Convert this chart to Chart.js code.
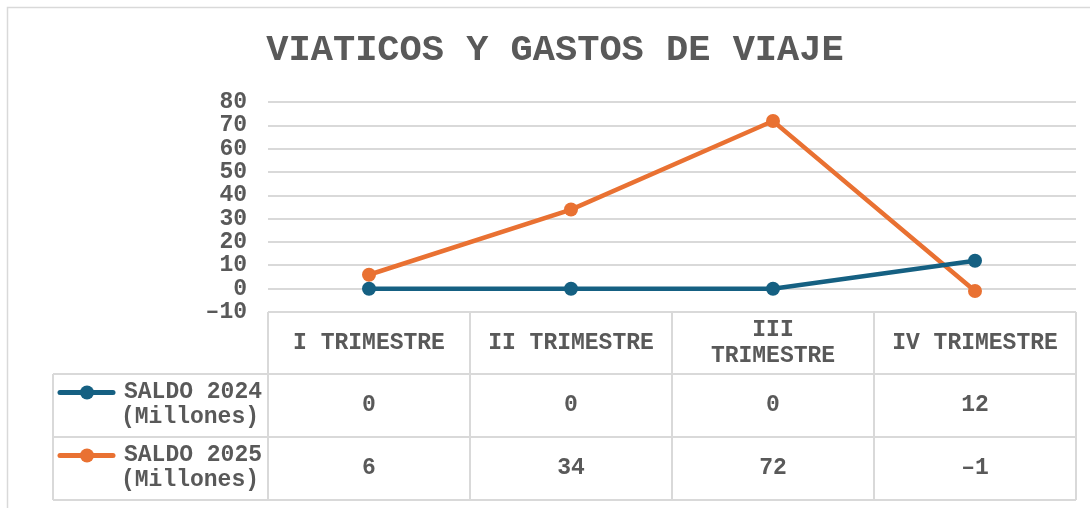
<!DOCTYPE html>
<html>
<head>
<meta charset="utf-8">
<script src="https://cdn.jsdelivr.net/npm/chart.js@4"></script>
<style>
  html, body { margin: 0; padding: 0; background: #fff; }
  #wrap { width: 1090px; height: 508px; position: relative; }
</style>
</head>
<body>
<div id="wrap"><canvas id="chart" width="1090" height="508"></canvas></div>
<script>
// datos del gráfico
const categories = ['I TRIMESTRE', 'II TRIMESTRE', 'III TRIMESTRE', 'IV TRIMESTRE'];
const categoryLines = [['I TRIMESTRE'], ['II TRIMESTRE'], ['III', 'TRIMESTRE'], ['IV TRIMESTRE']];
const seriesNames = [['SALDO 2024', '(Millones)'], ['SALDO 2025', '(Millones)']];
const saldo2024 = [0, 0, 0, 12];
const saldo2025 = [6, 34, 72, -1];
const yTicks = [-10, 0, 10, 20, 30, 40, 50, 60, 70, 80];

const TEXT = '#595959';
const GRID = '#D9D9D9';
const BLUE = '#156082';
const ORANGE = '#E97132';
const FONT = '"Liberation Mono", "Courier New", monospace';

/**
 * Tabla de datos bajo el gráfico (estilo Excel)
 */
const dataTable = {
  id: 'dataTable',
  beforeDraw(chart) {
    const ctx = chart.ctx;
    ctx.save();
    ctx.strokeStyle = GRID;
    ctx.lineWidth = 1.5;
    ctx.strokeRect(7.5, 7.5, 1200, 700);
    ctx.restore();
  },
  afterDraw(chart) {
    const ctx = chart.ctx;
    const x = chart.scales.x;
    const area = chart.chartArea;
    const top = area.bottom;
    const rows = [top, 374, 437, 500];
    const legendLeft = 53;
    const n = categories.length;
    const colW = (area.right - area.left) / n;

    ctx.save();
    ctx.strokeStyle = GRID;
    ctx.lineWidth = 2;
    ctx.beginPath();
    // líneas horizontales
    ctx.moveTo(area.left, rows[0]); ctx.lineTo(area.right, rows[0]);
    for (let r = 1; r < rows.length; r++) {
      ctx.moveTo(legendLeft, rows[r]); ctx.lineTo(area.right, rows[r]);
    }
    // líneas verticales
    for (let i = 0; i <= n; i++) {
      const cx = area.left + i * colW;
      ctx.moveTo(cx, rows[0]); ctx.lineTo(cx, rows[3]);
    }
    ctx.moveTo(legendLeft, rows[1]); ctx.lineTo(legendLeft, rows[3]);
    ctx.stroke();

    ctx.fillStyle = TEXT;
    ctx.font = 'bold 23px ' + FONT;
    ctx.textAlign = 'center';
    ctx.textBaseline = 'middle';
    // encabezados
    categoryLines.forEach((lines, i) => {
      const cx = x.getPixelForValue(i);
      const cy = (rows[0] + rows[1]) / 2;
      lines.forEach((t, k) => {
        ctx.fillText(t, cx, cy + (k - (lines.length - 1) / 2) * 26);
      });
    });
    // valores
    [saldo2024, saldo2025].forEach((vals, r) => {
      const cy = (rows[r + 1] + rows[r + 2]) / 2;
      vals.forEach((v, i) => {
        ctx.fillText(String(v).replace('-', '\u2013'), x.getPixelForValue(i), cy);
      });
    });
    // leyenda
    const colors = [BLUE, ORANGE];
    seriesNames.forEach((lines, r) => {
      const cy = (rows[r + 1] + rows[r + 2]) / 2;
      const ly = cy - 13;
      ctx.strokeStyle = colors[r];
      ctx.lineWidth = 5;
      ctx.lineCap = 'round';
      ctx.beginPath();
      ctx.moveTo(60, ly); ctx.lineTo(113, ly);
      ctx.stroke();
      ctx.fillStyle = colors[r];
      ctx.beginPath();
      ctx.arc(87, ly, 7, 0, Math.PI * 2);
      ctx.fill();
      ctx.fillStyle = TEXT;
      ctx.textAlign = 'right';
      ctx.fillText(lines[0], 262, cy - 13);
      ctx.fillText(lines[1], 259, cy + 12);
    });
    ctx.restore();
  }
};

new Chart(document.getElementById('chart'), {
  type: 'line',
  data: {
    labels: categories,
    datasets: [
      {
        label: 'SALDO 2024 (Millones)',
        data: saldo2024,
        borderColor: BLUE,
        backgroundColor: BLUE,
        borderWidth: 4.5,
        pointRadius: 7,
        pointBackgroundColor: BLUE,
        pointBorderWidth: 0,
        tension: 0
      },
      {
        label: 'SALDO 2025 (Millones)',
        data: saldo2025,
        borderColor: ORANGE,
        backgroundColor: ORANGE,
        borderWidth: 4.5,
        pointRadius: 7,
        pointBackgroundColor: ORANGE,
        pointBorderWidth: 0,
        tension: 0
      }
    ]
  },
  options: {
    responsive: false,
    animation: false,
    layout: { padding: { left: 34, right: 14, top: 0, bottom: 196 } },
    plugins: {
      legend: { display: false },
      tooltip: { enabled: false },
      title: {
        display: true,
        text: 'VIATICOS Y GASTOS DE VIAJE',
        color: TEXT,
        font: { family: FONT, size: 37, weight: 'bold' },
        padding: { top: 28, bottom: 30 }
      }
    },
    scales: {
      x: {
        display: false,
        offset: true
      },
      y: {
        min: -10,
        max: 80,
        afterFit(scale) { scale.width = 234; },
        afterBuildTicks(scale) { scale.ticks = yTicks.map(v => ({ value: v })); },
        grid: { color: GRID, lineWidth: 2, drawTicks: false },
        border: { display: false },
        ticks: {
          autoSkip: false,
          color: TEXT,
          padding: 21,
          font: { family: FONT, size: 23, weight: 'bold' },
          callback: v => String(v).replace('-', '\u2013')
        }
      }
    }
  },
  plugins: [dataTable]
});
</script>
</body>
</html>
